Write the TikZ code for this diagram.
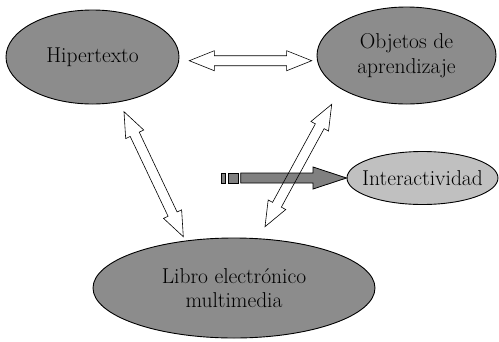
\documentclass[tikz,border=0pt]{standalone}
\usetikzlibrary{calc,shapes.geometric}
\definecolor{ellgray}{RGB}{140,140,140}
\definecolor{lightell}{RGB}{192,192,192}
\definecolor{arrgray}{RGB}{128,128,128}
\newcommand\dblarrow[2]{%
  \draw[blockarrow] (#1) -- ($(#1)!26.93pt!21.8:(#2)$) -- ($(#1)!25.5pt!11.31:(#2)$)
    -- ($(#2)!25.5pt!-11.31:(#1)$) -- ($(#2)!26.93pt!-21.8:(#1)$) -- (#2)
    -- ($(#2)!26.93pt!21.8:(#1)$) -- ($(#2)!25.5pt!11.31:(#1)$)
    -- ($(#1)!25.5pt!-11.31:(#2)$) -- ($(#1)!26.93pt!-21.8:(#2)$) -- cycle;}
\begin{document}
\begin{tikzpicture}[x=1pt,y=-1pt,
  ell/.style={ellipse, draw=black, line width=0.9pt, fill=ellgray, inner sep=0pt,
    align=center, font=\fontsize{21.5}{24.5}\selectfont},
  blockarrow/.style={draw=black, line width=0.6pt, fill=none, line join=miter},
  grayarrow/.style={draw=black, line width=0.8pt, fill=arrgray}]
\useasboundingbox (0,0) rectangle (499,341);
\node[ell, minimum width=173pt, minimum height=94pt] (hip) at (92.5,57) {Hipertexto};
\node[ell, minimum width=179pt, minimum height=97pt] (obj) at (406.5,55.5) {Objetos de\\aprendizaje};
\node[ell, fill=lightell, inner xsep=-14pt, inner ysep=-2pt, minimum width=151pt, minimum height=53pt] (inter) at (422.5,178) {Interactividad};
\node[ell, minimum width=282pt, minimum height=100pt] (lib) at (234,288) {Libro electrónico\\multimedia};
% gray arrow
\coordinate (gs) at (240.7,178);
\draw[grayarrow] (221.7,173) rectangle (225.7,183);
\draw[grayarrow] (228.3,173) rectangle (238.3,183);
\draw[grayarrow] ($(gs)+(0,-5)$) -- (313,173) -- (313,167) -- (inter.west) -- (313,189) -- (313,183) -- ($(gs)+(0,5)$) -- cycle;
% double arrows
\coordinate (h1) at (189.3,60.7);
\coordinate (h2) at (311.7,60.7);
\coordinate (l1) at (124,111.7);
\coordinate (l2) at (183.3,236.7);
\coordinate (r1) at (331.7,104.3);
\coordinate (r2) at (265,226.7);
\dblarrow{h1}{h2}
\dblarrow{l1}{l2}
\dblarrow{r1}{r2}
\end{tikzpicture}
\end{document}
